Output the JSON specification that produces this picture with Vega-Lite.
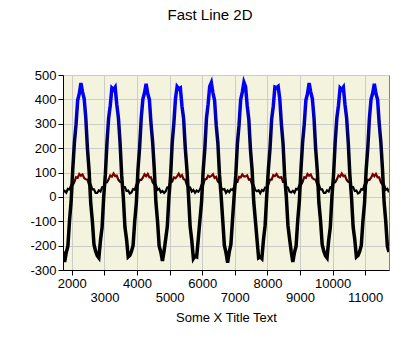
{
  "$schema": "https://vega.github.io/schema/vega-lite/v6.json",
  "autosize": {"type": "none"},
  "width": 326,
  "height": 195,
  "padding": {"left": 63, "top": 75, "right": 31, "bottom": 90},
  "background": "white",
  "title": {"text": "Fast Line 2D", "font": "Liberation Sans", "fontSize": 15, "fontWeight": "normal", "color": "black", "anchor": "middle", "dx": -16, "offset": 46},
  "config": {
    "view": {"fill": "#f4f4de", "stroke": "#808080", "strokeWidth": 1},
    "axis": {"labelFont": "Liberation Sans", "labelFontSize": 13, "labelColor": "black", "titleFont": "Liberation Sans", "titleFontSize": 13, "titleFontWeight": "normal", "titleColor": "black", "domainColor": "black", "tickColor": "black", "tickSize": 5, "gridColor": "#cccccc", "gridWidth": 1, "labelOverlap": false, "labelExpr": "datum.value + ''"}
  },
  "data": {"values": [
{"x":1730,"a":-224,"b":18},{"x":1780,"a":-267,"b":25},{"x":1830,"a":-229,"b":17},{"x":1880,"a":-202,"b":33},{"x":1930,"a":-97,"b":31},{"x":1980,"a":-18,"b":48},{"x":2030,"a":115,"b":49},{"x":2080,"a":224,"b":62},{"x":2130,"a":297,"b":81},{"x":2180,"a":396,"b":78},
{"x":2230,"a":423,"b":94},{"x":2280,"a":467,"b":87},{"x":2330,"a":430,"b":92},{"x":2380,"a":402,"b":77},{"x":2430,"a":323,"b":72},{"x":2480,"a":198,"b":71},{"x":2530,"a":109,"b":50},{"x":2580,"a":-25,"b":50},{"x":2630,"a":-97,"b":31},{"x":2680,"a":-195,"b":31},
{"x":2730,"a":-223,"b":16},{"x":2780,"a":-241,"b":16},{"x":2830,"a":-250,"b":27},{"x":2880,"a":-178,"b":22},{"x":2930,"a":-124,"b":40},{"x":2980,"a":2,"b":41},{"x":3030,"a":92,"b":59},{"x":3080,"a":225,"b":60},{"x":3130,"a":323,"b":72},{"x":3180,"a":375,"b":88},
{"x":3230,"a":447,"b":83},{"x":3280,"a":440,"b":96},{"x":3330,"a":450,"b":85},{"x":3380,"a":379,"b":87},{"x":3430,"a":324,"b":70},{"x":3480,"a":224,"b":62},{"x":3530,"a":88,"b":60},{"x":3580,"a":-1,"b":39},{"x":3630,"a":-124,"b":40},{"x":3680,"a":-175,"b":24},
{"x":3730,"a":-246,"b":26},{"x":3780,"a":-240,"b":14},{"x":3830,"a":-224,"b":18},{"x":3880,"a":-199,"b":32},{"x":3930,"a":-100,"b":29},{"x":3980,"a":-25,"b":50},{"x":4030,"a":112,"b":52},{"x":4080,"a":202,"b":70},{"x":4130,"a":324,"b":70},{"x":4180,"a":401,"b":79},
{"x":4230,"a":426,"b":93},{"x":4280,"a":464,"b":85},{"x":4330,"a":423,"b":94},{"x":4380,"a":399,"b":80},{"x":4430,"a":301,"b":80},{"x":4480,"a":225,"b":60},{"x":4530,"a":114,"b":51},{"x":4580,"a":-22,"b":49},{"x":4630,"a":-100,"b":29},{"x":4680,"a":-202,"b":33},
{"x":4730,"a":-226,"b":19},{"x":4780,"a":-263,"b":24},{"x":4830,"a":-223,"b":16},{"x":4880,"a":-173,"b":23},{"x":4930,"a":-121,"b":39},{"x":4980,"a":-1,"b":39},{"x":5030,"a":85,"b":61},{"x":5080,"a":222,"b":63},{"x":5130,"a":301,"b":80},{"x":5180,"a":402,"b":77},
{"x":5230,"a":452,"b":84},{"x":5280,"a":443,"b":95},{"x":5330,"a":447,"b":83},{"x":5380,"a":372,"b":89},{"x":5430,"a":321,"b":73},{"x":5480,"a":202,"b":70},{"x":5530,"a":115,"b":49},{"x":5580,"a":4,"b":40},{"x":5630,"a":-121,"b":39},{"x":5680,"a":-178,"b":22},
{"x":5730,"a":-253,"b":28},{"x":5780,"a":-243,"b":17},{"x":5830,"a":-246,"b":26},{"x":5880,"a":-172,"b":21},{"x":5930,"a":-95,"b":30},{"x":5980,"a":-22,"b":49},{"x":6030,"a":109,"b":50},{"x":6080,"a":195,"b":72},{"x":6130,"a":321,"b":73},{"x":6180,"a":379,"b":87},
{"x":6230,"a":453,"b":82},{"x":6280,"a":469,"b":86},{"x":6330,"a":426,"b":93},{"x":6380,"a":396,"b":78},{"x":6430,"a":294,"b":82},{"x":6480,"a":222,"b":63},{"x":6530,"a":92,"b":59},{"x":6580,"a":5,"b":38},{"x":6630,"a":-95,"b":30},{"x":6680,"a":-199,"b":32},
{"x":6730,"a":-229,"b":17},{"x":6780,"a":-270,"b":26},{"x":6830,"a":-226,"b":19},{"x":6880,"a":-195,"b":31},{"x":6930,"a":-94,"b":28},{"x":6980,"a":4,"b":40},{"x":7030,"a":88,"b":60},{"x":7080,"a":219,"b":61},{"x":7130,"a":294,"b":82},{"x":7180,"a":399,"b":80},
{"x":7230,"a":430,"b":92},{"x":7280,"a":470,"b":84},{"x":7330,"a":452,"b":84},{"x":7380,"a":375,"b":88},{"x":7430,"a":318,"b":71},{"x":7480,"a":195,"b":72},{"x":7530,"a":112,"b":52},{"x":7580,"a":-18,"b":48},{"x":7630,"a":-94,"b":28},{"x":7680,"a":-173,"b":23},
{"x":7730,"a":-250,"b":27},{"x":7780,"a":-246,"b":15},{"x":7830,"a":-253,"b":28},{"x":7880,"a":-175,"b":24},{"x":7930,"a":-117,"b":38},{"x":7980,"a":5,"b":38},{"x":8030,"a":114,"b":51},{"x":8080,"a":198,"b":71},{"x":8130,"a":318,"b":71},{"x":8180,"a":372,"b":89},
{"x":8230,"a":450,"b":85},{"x":8280,"a":447,"b":94},{"x":8330,"a":453,"b":82},{"x":8380,"a":401,"b":79},{"x":8430,"a":297,"b":81},{"x":8480,"a":219,"b":61},{"x":8530,"a":85,"b":61},{"x":8580,"a":2,"b":41},{"x":8630,"a":-117,"b":38},{"x":8680,"a":-172,"b":21},
{"x":8730,"a":-224,"b":18},{"x":8780,"a":-267,"b":25},{"x":8830,"a":-229,"b":17},{"x":8880,"a":-202,"b":33},{"x":8930,"a":-97,"b":31},{"x":8980,"a":-18,"b":48},{"x":9030,"a":115,"b":49},{"x":9080,"a":224,"b":62},{"x":9130,"a":297,"b":81},{"x":9180,"a":396,"b":78},
{"x":9230,"a":423,"b":94},{"x":9280,"a":467,"b":87},{"x":9330,"a":430,"b":92},{"x":9380,"a":402,"b":77},{"x":9430,"a":323,"b":72},{"x":9480,"a":198,"b":71},{"x":9530,"a":109,"b":50},{"x":9580,"a":-25,"b":50},{"x":9630,"a":-97,"b":31},{"x":9680,"a":-195,"b":31},
{"x":9730,"a":-223,"b":16},{"x":9780,"a":-241,"b":16},{"x":9830,"a":-250,"b":27},{"x":9880,"a":-178,"b":22},{"x":9930,"a":-124,"b":40},{"x":9980,"a":2,"b":41},{"x":10030,"a":92,"b":59},{"x":10080,"a":225,"b":60},{"x":10130,"a":323,"b":72},{"x":10180,"a":375,"b":88},
{"x":10230,"a":447,"b":83},{"x":10280,"a":440,"b":96},{"x":10330,"a":450,"b":85},{"x":10380,"a":379,"b":87},{"x":10430,"a":324,"b":70},{"x":10480,"a":224,"b":62},{"x":10530,"a":88,"b":60},{"x":10580,"a":-1,"b":39},{"x":10630,"a":-124,"b":40},{"x":10680,"a":-175,"b":24},
{"x":10730,"a":-246,"b":26},{"x":10780,"a":-240,"b":14},{"x":10830,"a":-224,"b":18},{"x":10880,"a":-199,"b":32},{"x":10930,"a":-100,"b":29},{"x":10980,"a":-25,"b":50},{"x":11030,"a":112,"b":52},{"x":11080,"a":202,"b":70},{"x":11130,"a":324,"b":70},{"x":11180,"a":401,"b":79},
{"x":11230,"a":426,"b":93},{"x":11280,"a":464,"b":85},{"x":11330,"a":423,"b":94},{"x":11380,"a":399,"b":80},{"x":11430,"a":301,"b":80},{"x":11480,"a":225,"b":60},{"x":11530,"a":114,"b":51},{"x":11580,"a":-22,"b":49},{"x":11630,"a":-100,"b":29},{"x":11680,"a":-202,"b":33},
{"x":11730,"a":-226,"b":19}
  ]},
  "encoding": {
    "x": {"field": "x", "type": "quantitative",
      "scale": {"domain": [1730, 11730], "nice": false, "zero": false},
      "axis": {"values": [2000,3000,4000,5000,6000,7000,8000,9000,10000,11000], "grid": true, "labelFlush": false,
        "labelPadding": {"condition": {"test": "datum.value % 2000 != 0", "value": 16}, "value": 2},
        "title": "Some X Title Text", "titlePadding": 7}}
  },
  "layer": [
    {"mark": {"type": "line", "strokeWidth": 2.2, "clip": true,
      "color": {"gradient": "linear", "x1": 0, "y1": 0, "x2": 0, "y2": 1, "stops": [
        {"offset": 0, "color": "#800000"}, {"offset": 0.2, "color": "#700000"}, {"offset": 0.4, "color": "#300000"}, {"offset": 0.5, "color": "#000000"}, {"offset": 1, "color": "#000000"}]}},
     "encoding": {"y": {"field": "b", "type": "quantitative",
       "scale": {"domain": [-300, 500], "nice": false, "zero": false},
       "axis": {"values": [-300,-200,-100,0,100,200,300,400,500], "tickCount": 9, "grid": true, "labelPadding": 2, "title": null}}}},
    {"mark": {"type": "line", "strokeWidth": 3.5, "clip": true,
      "color": {"gradient": "linear", "x1": 0, "y1": 0, "x2": 0, "y2": 1, "stops": [
        {"offset": 0, "color": "#0000ff"}, {"offset": 0.12, "color": "#0000ee"}, {"offset": 0.22, "color": "#0000a0"}, {"offset": 0.3, "color": "#000060"}, {"offset": 0.4, "color": "#000020"}, {"offset": 0.5, "color": "#000000"}, {"offset": 1, "color": "#000000"}]}},
     "encoding": {"y": {"field": "a", "type": "quantitative",
       "scale": {"domain": [-300, 500], "nice": false, "zero": false},
       "axis": {"values": [-300,-200,-100,0,100,200,300,400,500], "tickCount": 9, "grid": true, "labelPadding": 2, "title": null}}}}
  ]
}
